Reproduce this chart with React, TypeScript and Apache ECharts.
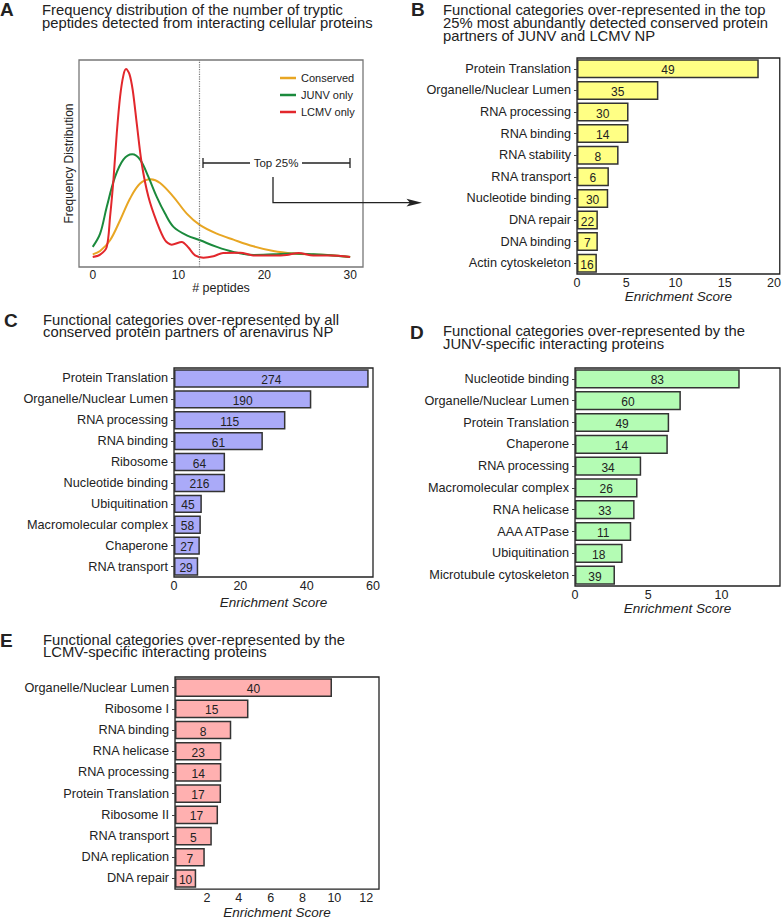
import React, { useEffect, useRef } from "react";
import * as echarts from "echarts";

const FONT = "'Liberation Sans', Arial, Helvetica, sans-serif";

// Panel A: frequency distribution curves ([# peptides, relative frequency])
const conservedCurve = [
  [0, 6.1], [0.86, 7.7], [2.02, 12.9], [3.19, 22.6], [4.35, 33.1], [5.52, 40.3],
  [6.76, 42.4], [7.85, 40.6], [9.41, 33.9], [10.96, 25.8], [12.51, 20.2], [14.46, 16.1],
  [16.4, 13.2], [18.73, 10], [21.06, 7.7], [23.4, 6.5], [25.73, 6], [28.06, 5.6], [30, 4.8],
];
const junvCurve = [
  [0, 9.7], [0.86, 16.1], [1.63, 29], [2.6, 43.5], [3.57, 51.9], [4.6, 54.5], [5.52, 51.9],
  [6.49, 43.5], [7.46, 33.9], [8.43, 25.8], [9.41, 19.4], [10.96, 15.3], [12.51, 12.9],
  [14.46, 9.7], [16.4, 7.3], [18.73, 5.8], [21.06, 6.1], [23.4, 6.5], [25.73, 6.1], [28.06, 5.6], [30, 4.8],
];
const lcmvCurve = [
  [0, 4.8], [0.86, 6.0], [1.63, 9.7], [2.02, 24.2], [2.41, 41.9], [2.8, 64.5], [3.19, 82.3],
  [3.58, 92.7], [3.89, 95.6], [4.28, 93.2], [4.66, 85.5], [5.13, 69.4], [5.71, 50], [6.49, 33.9],
  [7.46, 21.8], [8.43, 12.9], [9.21, 10.8], [10.38, 12.1], [11.15, 9.4], [11.93, 5.6], [12.9, 4.5],
  [14.07, 5.2], [15.2, 6.8], [17.2, 6.9], [18.7, 5.6], [21.1, 5.5], [22.6, 5.8], [24.0, 6.8],
  [25.7, 5.5], [27.7, 5.5], [30, 4.8],
];
const top25Cutoff = 12.4;
const peptideTicks = [0, 10, 20, 30];

// Panel B
const catB = [
  "Protein Translation", "Organelle/Nuclear Lumen", "RNA processing", "RNA binding", "RNA stability",
  "RNA transport", "Nucleotide binding", "DNA repair", "DNA binding", "Actin cytoskeleton",
];
const scoreB = [18.45, 8.26, 5.23, 5.23, 4.22, 3.24, 3.17, 2.12, 2.12, 2.02];
const countB = [49, 35, 30, 14, 8, 6, 30, 22, 7, 16];
const ticksB = [0, 5, 10, 15, 20];

// Panel C
const catC = [
  "Protein Translation", "Organelle/Nuclear Lumen", "RNA processing", "RNA binding", "Ribosome",
  "Nucleotide binding", "Ubiquitination", "Macromolecular complex", "Chaperone", "RNA transport",
];
const scoreC = [58.7, 41.4, 33.6, 26.8, 15.4, 15.4, 8.4, 8.1, 7.8, 7.3];
const countC = [274, 190, 115, 61, 64, 216, 45, 58, 27, 29];
const ticksC = [0, 20, 40, 60];

// Panel D
const catD = [
  "Nucleotide binding", "Organelle/Nuclear Lumen", "Protein Translation", "Chaperone", "RNA processing",
  "Macromolecular complex", "RNA helicase", "AAA ATPase", "Ubiquitination", "Microtubule cytoskeleton",
];
const scoreD = [11.25, 7.23, 6.43, 6.34, 4.52, 4.27, 4.07, 3.84, 3.25, 2.73];
const countD = [83, 60, 49, 14, 34, 26, 33, 11, 18, 39];
const ticksD = [0, 5, 10];

// Panel E
const catE = [
  "Organelle/Nuclear Lumen", "Ribosome I", "RNA binding", "RNA helicase", "RNA processing",
  "Protein Translation", "Ribosome II", "RNA transport", "DNA replication", "DNA repair",
];
const scoreE = [9.85, 4.61, 3.53, 2.91, 2.91, 2.89, 2.7, 2.31, 1.87, 1.33];
const countE = [40, 15, 8, 23, 14, 17, 17, 5, 7, 10];
const ticksE = [2, 4, 6, 8, 10, 12];

const titleA = ["Frequency distribution of the number of tryptic", "peptides detected from interacting cellular proteins"];
const titleB = [
  "Functional categories over-represented in the top",
  "25% most abundantly detected conserved protein",
  "partners of JUNV and LCMV NP",
];
const titleC = ["Functional categories over-represented by all", "conserved protein partners of arenavirus NP"];
const titleD = ["Functional categories over-represented by the", "JUNV-specific interacting proteins"];
const titleE = ["Functional categories over-represented by the", "LCMV-specific interacting proteins"];

function txt(text: string, x: number, y: number, font: string, align = "left", fill = "#222") {
  return {
    type: "text",
    x,
    y,
    silent: true,
    style: { text, font, fill, align, verticalAlign: "middle", textAlign: align, textVerticalAlign: "middle" },
  };
}

function titleLines(lines: string[], x: number, y0: number, step: number) {
  return lines.map((l, i) => txt(l, x, y0 + i * step, `14.8px ${FONT}`));
}

function barAxisX(gridIndex: number, max: number, ticks: number[], nameGap: number) {
  return {
    type: "value",
    gridIndex,
    min: 0,
    max,
    axisLine: { show: false },
    axisTick: { show: false },
    splitLine: { show: false },
    axisLabel: { customValues: ticks, fontSize: 12.5, color: "#222", fontFamily: FONT, margin: 2 },
    name: "Enrichment Score",
    nameLocation: "middle",
    nameGap,
    nameTextStyle: { fontSize: 13.5, fontStyle: "italic", color: "#222", fontFamily: FONT },
  };
}

function barAxisY(gridIndex: number, data: string[]) {
  return {
    type: "category",
    gridIndex,
    data,
    inverse: true,
    axisLine: { show: false },
    axisTick: { show: true, alignWithLabel: true, length: 3, lineStyle: { color: "#444" } },
    axisLabel: { fontSize: 12.7, color: "#222", fontFamily: FONT, margin: 6 },
    splitLine: { show: false },
  };
}

function barSeries(idx: number, scores: number[], counts: number[], color: string) {
  return {
    type: "bar",
    xAxisIndex: idx,
    yAxisIndex: idx,
    barCategoryGap: "12%",
    data: scores.map((v, i) => ({ value: v, count: counts[i] })),
    itemStyle: { color, borderColor: "#333", borderWidth: 1.5 },
    label: {
      show: true,
      position: "inside",
      formatter: (p: any) => String(p.data.count),
      fontSize: 12,
      color: "#222",
      fontFamily: FONT,
      offset: [0, 1.5],
    },
  };
}

export default function App() {
  const ref = useRef<HTMLDivElement>(null);
  useEffect(() => {
    if (!ref.current) return;
    const chart = echarts.init(ref.current, null, { renderer: "svg" });
    const lineStyleBase = { width: 2 };
    const option: any = {
      animation: false,
      backgroundColor: "#fff",
      textStyle: { fontFamily: FONT },
      legend: {
        data: ["Conserved", "JUNV only", "LCMV only"],
        orient: "vertical",
        left: 280,
        top: 71.5,
        icon: "rect",
        itemWidth: 16,
        itemHeight: 2.5,
        itemGap: 4,
        padding: 0,
        selectedMode: false,
        textStyle: { fontSize: 11, color: "#222", fontFamily: FONT, lineHeight: 13 },
      },
      grid: [
        { left: 79, top: 60, width: 284, height: 207, show: true, borderColor: "#777", borderWidth: 1.3 },
        { left: 577, top: 58, width: 203, height: 216, show: true, borderColor: "#222", borderWidth: 1.3 },
        { left: 174, top: 368, width: 199, height: 209, show: true, borderColor: "#222", borderWidth: 1.3 },
        { left: 575, top: 368, width: 205, height: 218, show: true, borderColor: "#222", borderWidth: 1.3 },
        { left: 175, top: 677, width: 204, height: 216, show: true, borderColor: "#222", borderWidth: 1.3 },
      ],
      xAxis: [
        {
          type: "value",
          gridIndex: 0,
          min: -1.6,
          max: 31.5,
          axisLine: { show: false },
          axisTick: { show: false },
          splitLine: { show: false },
          axisLabel: { customValues: peptideTicks, fontSize: 12, color: "#222", fontFamily: FONT, margin: 2 },
          name: "# peptides",
          nameLocation: "middle",
          nameGap: 11,
          nameTextStyle: { fontSize: 12.5, color: "#222", fontFamily: FONT },
        },
        barAxisX(1, 20.58, ticksB, 14),
        barAxisX(2, 60, ticksC, 18),
        barAxisX(3, 14, ticksD, 12),
        barAxisX(4, 12.8, ticksE, 15),
      ],
      yAxis: [
        {
          type: "value",
          gridIndex: 0,
          min: 0,
          max: 100,
          axisLine: { show: false },
          axisTick: { show: false },
          axisLabel: { show: false },
          splitLine: { show: false },
          name: "Frequency Distribution",
          nameLocation: "middle",
          nameGap: 4,
          nameTextStyle: { fontSize: 12, color: "#222", fontFamily: FONT },
        },
        barAxisY(1, catB),
        barAxisY(2, catC),
        barAxisY(3, catD),
        barAxisY(4, catE),
      ],
      series: [
        {
          name: "Conserved",
          type: "line",
          xAxisIndex: 0,
          yAxisIndex: 0,
          data: conservedCurve,
          smooth: 0.35,
          showSymbol: false,
          symbol: "none",
          color: "#E8A623",
          lineStyle: { ...lineStyleBase, color: "#E8A623" },
        },
        {
          name: "JUNV only",
          type: "line",
          xAxisIndex: 0,
          yAxisIndex: 0,
          data: junvCurve,
          smooth: 0.35,
          showSymbol: false,
          symbol: "none",
          color: "#1B8A3C",
          lineStyle: { ...lineStyleBase, color: "#1B8A3C" },
        },
        {
          name: "LCMV only",
          type: "line",
          xAxisIndex: 0,
          yAxisIndex: 0,
          data: lcmvCurve,
          smooth: 0.3,
          showSymbol: false,
          symbol: "none",
          color: "#E2272C",
          lineStyle: { ...lineStyleBase, color: "#E2272C" },
          markLine: {
            silent: true,
            symbol: "none",
            label: { show: false },
            lineStyle: { type: "dotted", color: "#777", width: 1.2 },
            data: [{ xAxis: top25Cutoff }],
          },
        },
        barSeries(1, scoreB, countB, "#FFFF84"),
        barSeries(2, scoreC, countC, "#AAAAF8"),
        barSeries(3, scoreD, countD, "#B4FCB4"),
        barSeries(4, scoreE, countE, "#FFB0B0"),
      ],
      graphic: [
        txt("A", 0, 9, `bold 19px ${FONT}`),
        txt("B", 411, 9, `bold 19px ${FONT}`),
        txt("C", 4, 320, `bold 19px ${FONT}`),
        txt("D", 410, 332, `bold 19px ${FONT}`),
        txt("E", 0, 640, `bold 19px ${FONT}`),
        ...titleLines(titleA, 42, 10, 12.8),
        ...titleLines(titleB, 443, 10, 12.8),
        ...titleLines(titleC, 43, 319.5, 12.8),
        ...titleLines(titleD, 443, 331, 12.8),
        ...titleLines(titleE, 43, 639.5, 12.8),
        // Top 25% bracket
        { type: "line", silent: true, shape: { x1: 203, y1: 158, x2: 203, y2: 168 }, style: { stroke: "#222", lineWidth: 1.3 } },
        { type: "line", silent: true, shape: { x1: 350, y1: 158, x2: 350, y2: 168 }, style: { stroke: "#222", lineWidth: 1.3 } },
        { type: "line", silent: true, shape: { x1: 203, y1: 163, x2: 250, y2: 163 }, style: { stroke: "#222", lineWidth: 1.3 } },
        { type: "line", silent: true, shape: { x1: 302, y1: 163, x2: 350, y2: 163 }, style: { stroke: "#222", lineWidth: 1.3 } },
        txt("Top 25%", 276, 163, `11.5px ${FONT}`, "center"),
        // connector arrow to panel B
        {
          type: "polyline",
          silent: true,
          shape: { points: [[273, 177], [273, 202.7], [412, 202.7]] },
          style: { stroke: "#222", lineWidth: 1.3, fill: null },
        },
        {
          type: "polygon",
          silent: true,
          shape: { points: [[406.5, 198.8], [422, 202.7], [406.5, 206.6], [410, 202.7]] },
          style: { fill: "#222" },
        },
      ],
    };
    chart.setOption(option);
    return () => chart.dispose();
  }, []);
  return (
    <div
      ref={ref}
      style={{ position: "absolute", left: 0, top: 0, width: 784, height: 920, background: "#fff" }}
    />
  );
}
